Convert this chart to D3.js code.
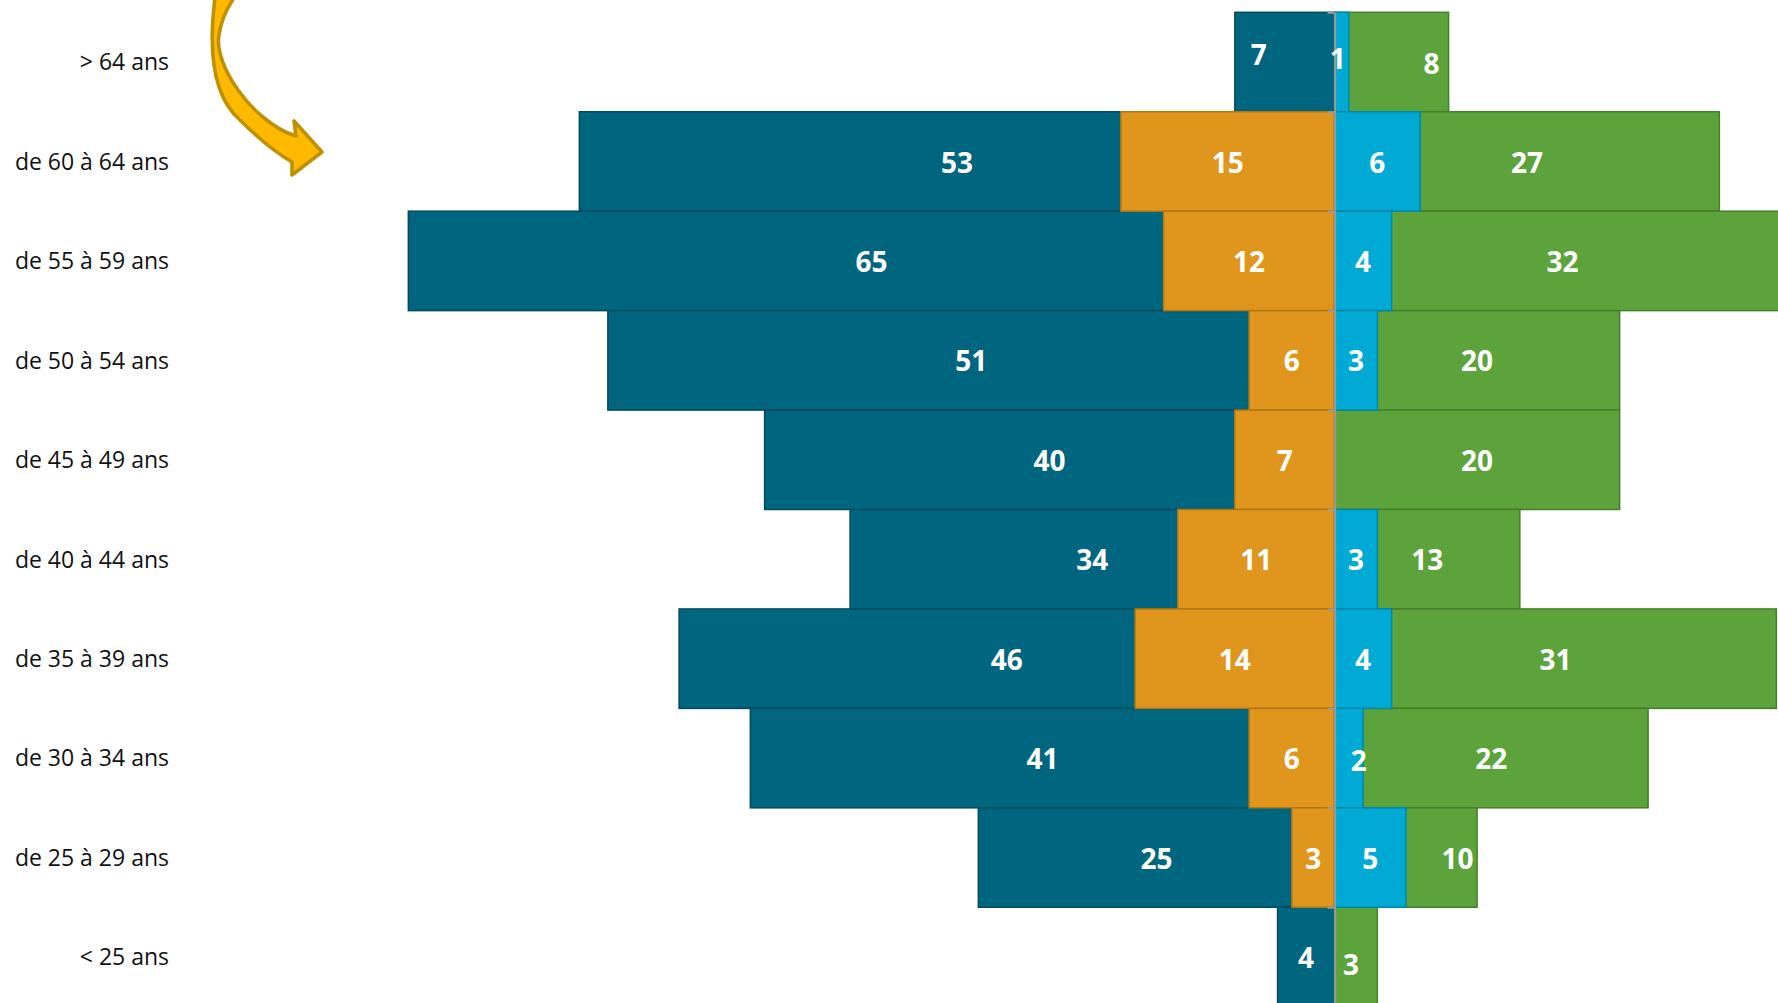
<!DOCTYPE html>
<html>
<head>
<meta charset="utf-8">
<script src="https://cdn.jsdelivr.net/npm/d3@7"></script>
<style>
  html, body { margin: 0; padding: 0; background: #fff; overflow: hidden; }
  svg { display: block; }
</style>
</head>
<body>
<svg id="chart" width="1778" height="1003"></svg>
<script>
// ---- data ----
const ageGroups = ["> 64 ans", "de 60 à 64 ans", "de 55 à 59 ans", "de 50 à 54 ans", "de 45 à 49 ans",
                   "de 40 à 44 ans", "de 35 à 39 ans", "de 30 à 34 ans", "de 25 à 29 ans", "< 25 ans"];
const darkBlueValues  = [7, 53, 65, 51, 40, 34, 46, 41, 25, 4];   // left, long bars
const orangeValues    = [0, 15, 12, 6, 7, 11, 14, 6, 3, 0];       // left, overlaid bars
const lightBlueValues = [1, 6, 4, 3, 0, 3, 4, 2, 5, 0];           // right, overlaid bars
const greenValues     = [8, 27, 32, 20, 20, 13, 31, 22, 10, 3];   // right, long bars

// ---- layout ----
const W = 1778, H = 1003;
const centerX = 1334.6, unitPx = 14.25;
const rowTop = 12.3, rowH = 99.44;

const svg = d3.select("#chart");
svg.append("rect").attr("width", W).attr("height", H).attr("fill", "#fff");

const x = d3.scaleLinear().domain([-80, 40]).range([centerX - 80 * unitPx, centerX + 40 * unitPx]);
const y = d3.scaleBand().domain(ageGroups).range([rowTop, rowTop + rowH * ageGroups.length]).padding(0);

const colors = {
  dark:  { fill: "#00657E", stroke: "#004B5E" },
  orange:{ fill: "#E0961C", stroke: "#B07717" },
  light: { fill: "#00AAD4", stroke: "#0088AA" },
  green: { fill: "#5BA33A", stroke: "#467F2C" }
};

function series(values, side, key) {
  return ageGroups.map((g, i) => ({ g, i, v: values[i], side, key }));
}
const layers = [
  series(darkBlueValues, -1, "dark"),
  series(orangeValues, -1, "orange"),
  series(greenValues, 1, "green"),
  series(lightBlueValues, 1, "light")
];

const barG = svg.append("g");
layers.forEach(layer => {
  barG.selectAll(null)
    .data(layer.filter(d => d.v > 0))
    .join("rect")
    .attr("x", d => d.side < 0 ? x(-d.v) : x(0))
    .attr("y", d => y(d.g))
    .attr("width", d => Math.abs(x(d.v) - x(0)))
    .attr("height", y.bandwidth())
    .attr("fill", d => colors[d.key].fill)
    .attr("stroke", d => colors[d.key].stroke)
    .attr("stroke-width", 1.5);
});

// central axis with ticks at row boundaries
const yEdge = d3.scaleLinear().domain([0, ageGroups.length]).range([rowTop, rowTop + rowH * ageGroups.length]);
const axis = svg.append("g")
  .attr("transform", `translate(${centerX},0)`)
  .call(d3.axisLeft(yEdge).ticks(ageGroups.length).tickSize(7).tickSizeOuter(0).tickFormat(""));
axis.selectAll("path, line").attr("stroke", "#9a9a9a").attr("stroke-width", 2);

// value labels (centred on each bar's half length, a few hand-moved as in the source)
const nudge = {
  "dark-0": [-26, -8.5], "light-0": [-4, -4.5], "green-0": [40, 1],
  "light-7": [10, 2], "green-8": [51.6, 0], "green-9": [-5, 7]
};
const labelG = svg.append("g");
layers.forEach(layer => {
  labelG.selectAll(null)
    .data(layer.filter(d => d.v > 0))
    .join("text")
    .attr("x", d => x(d.side * d.v / 2) + ((nudge[d.key + "-" + d.i] || [0, 0])[0]))
    .attr("y", d => y(d.g) + y.bandwidth() / 2 + 1 + ((nudge[d.key + "-" + d.i] || [0, 0])[1]))
    .attr("dy", "0.36em")
    .attr("text-anchor", "middle")
    .attr("fill", "#fff")
    .attr("font-family", "'Open Sans', sans-serif")
    .attr("font-weight", 700)
    .attr("font-size", 28)
    .text(d => d.v);
});

// category labels
svg.append("g").selectAll("text")
  .data(ageGroups)
  .join("text")
  .attr("x", 169)
  .attr("y", d => y(d) + y.bandwidth() / 2)
  .attr("dy", "0.36em")
  .attr("text-anchor", "end")
  .attr("fill", "#111")
  .attr("font-family", "'Open Sans', sans-serif")
  .attr("font-size", 23)
  .text(d => d);

// decorative curved arrow (top left)
svg.append("path")
  .attr("d", "M215,-2 C209,45 211,95 240,120 C258,138 275,152 292,162 L292,175 L322,152 L294,121 L296,136 " +
             "C275,130 252,110 238,90 C225,72 216,50 219,35 C221,20 227,8 234,-2 Z")
  .attr("fill", "#FFBA00")
  .attr("stroke", "#BF9000")
  .attr("stroke-width", 3.6)
  .attr("stroke-linejoin", "round");
</script>
</body>
</html>
